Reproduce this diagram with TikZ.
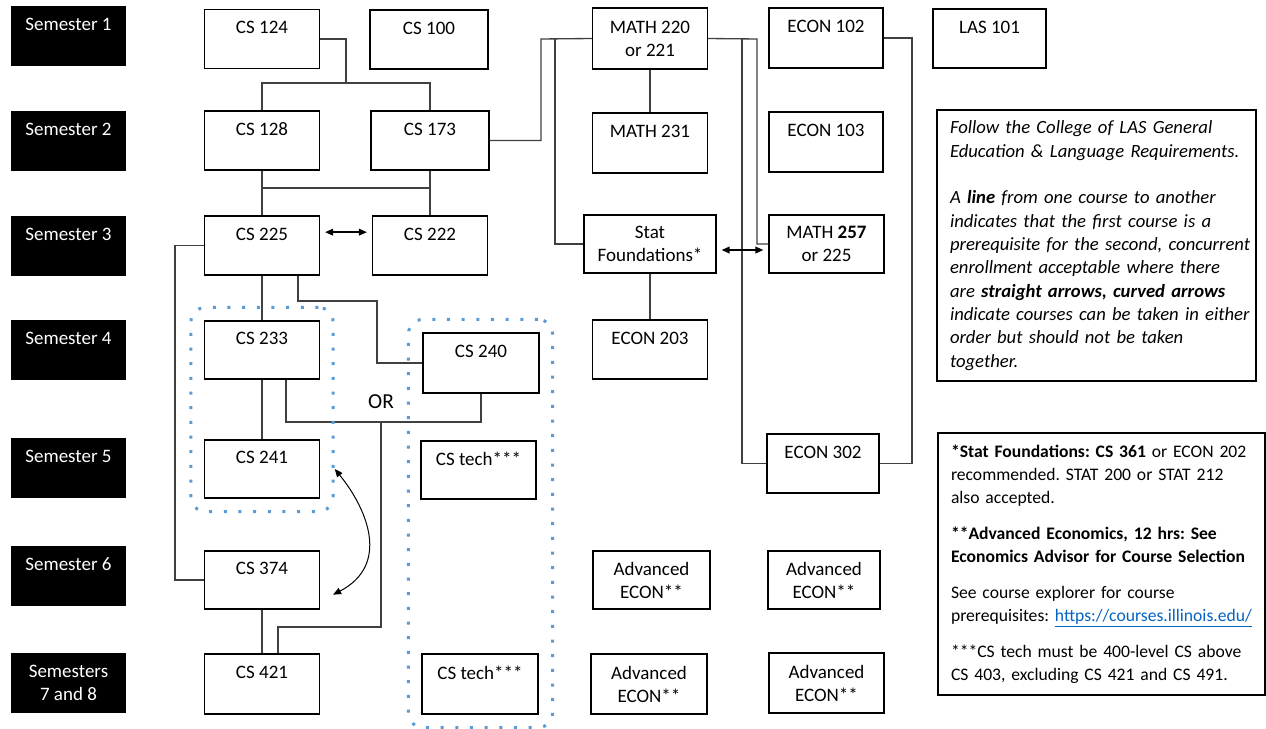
\documentclass[tikz,border=0pt]{standalone}
\usepackage{fontspec}
\setmainfont{Carlito}
\usetikzlibrary{arrows.meta,positioning,fit,calc}
\definecolor{dotblue}{RGB}{91,155,213}
\definecolor{linkblue}{RGB}{5,99,193}
\newcommand\boxfont{\fontsize{14.25}{17.25}\selectfont}
\newcommand\notefont{\fontsize{14}{17.5}\selectfont}
\newcommand\footfont{\fontsize{13.2}{17.25}\selectfont}
\frenchspacing

\begin{document}
\begin{tikzpicture}[x=0.75pt,y=-0.75pt,
  >={Triangle[length=6pt,width=5pt]},
  sem/.style={fill=black,text=white,minimum width=86.25pt,minimum height=45pt,inner sep=0pt,align=center,font=\boxfont},
  course/.style={draw=black,line width=0.9pt,fill=white,minimum width=86.25pt,minimum height=44.25pt,inner sep=0pt,align=center,font=\boxfont},
  conn/.style={draw=black!75,line width=1pt},
  twoway/.style={<->,draw=black,line width=1.1pt,shorten <=3.75pt,shorten >=3.75pt},
  dotbox/.style={draw=dotblue,line width=2.25pt,dash pattern=on 2.25pt off 8.75pt,rounded corners=11pt,inner sep=9.75pt},
  notebox/.style={draw=black,line width=1.4pt,align=left,inner xsep=0pt,inner ysep=0pt}
]
\useasboundingbox (0,0) rectangle (1266,728);

% semesters
\node[sem] (s1) at (68.5,36) {Semester 1\\\mbox{}};
\node[sem] (s2) at (68.5,140.5) {Semester 2\\\mbox{}};
\node[sem] (s3) at (68.5,245.5) {Semester 3\\\mbox{}};
\node[sem] (s4) at (68.5,350) {Semester 4\\\mbox{}};
\node[sem] (s5) at (68.5,467.5) {Semester 5\\\mbox{}};
\node[sem] (s6) at (68.5,576) {Semester 6\\\mbox{}};
\node[sem] (s7) at (68.5,682.5) {Semesters\\7 and 8};

% CS courses
\node[course] (cs124) at (262,39) {CS 124\\\mbox{}};
\node[course,minimum width=88.5pt] (cs100) at (429,39.5) {CS 100\\\mbox{}};
\node[course] (cs128) at (262,140.5) {CS 128\\\mbox{}};
\node[course,minimum width=88.5pt] (cs173) at (430,140.5) {CS 173\\\mbox{}};
\node[course] (cs225) at (262,245.5) {CS 225\\\mbox{}};
\node[course] (cs222) at (430,245.5) {CS 222\\\mbox{}};
\node[course,minimum height=43.5pt] (cs233) at (262,350) {CS 233\\\mbox{}};
\node[course,minimum width=87pt,minimum height=45pt] (cs240) at (481,363) {CS 240\\\mbox{}};
\node[course,minimum height=43.5pt] (cs241) at (262,469) {CS 241\\\mbox{}};
\node[course,minimum height=43.5pt] (cstechA) at (478.5,470) {CS tech***\\\mbox{}};
\node[course,minimum height=43.5pt] (cs374) at (262,580) {CS 374\\\mbox{}};
\node[course,minimum height=45pt] (cs421) at (262,684) {CS 421\\\mbox{}};
\node[course,minimum width=87pt,minimum height=45pt] (cstechB) at (480,684) {CS tech***\\\mbox{}};

% math, stats and econ
\node[course,minimum height=45.75pt] (math220) at (650,38.5) {MATH 220\\or 221};
\node[course,minimum height=45pt] (math231) at (650,143) {MATH 231\\\mbox{}};
\node[course,minimum width=99pt,minimum height=43.5pt] (stat) at (650,244) {Stat\\Foundations*};
\node[course] (econ203) at (650,349.5) {ECON 203\\\mbox{}};
\node[course,minimum width=85.5pt,minimum height=45pt] (econ102) at (826,38) {ECON 102\\\mbox{}};
\node[course,minimum width=85.5pt,minimum height=45pt] (econ103) at (826,142) {ECON 103\\\mbox{}};
\node[course,minimum height=43.5pt] (math257) at (826.5,244) {MATH \textbf{257}\\or 225};
\node[course,minimum width=84pt] (econ302) at (823,463.5) {ECON 302\\\mbox{}};
\node[course,minimum width=84.75pt] (las101) at (989.5,38.5) {LAS 101\\\mbox{}};
\node[course,minimum width=87.75pt,minimum height=43.5pt] (advA) at (651.5,580) {Advanced\\ECON**};
\node[course,minimum width=84pt,minimum height=43.5pt] (advB) at (824,580) {Advanced\\ECON**};
\node[course,minimum width=87pt,minimum height=45pt] (advC) at (649,684) {Advanced\\ECON**};
\node[course,minimum height=45pt] (advD) at (826.5,683) {Advanced\\ECON**};

% prerequisite lines
\coordinate (j1) at (346,83);
\draw[conn] (cs124.east) -| (j1) -| (cs128.north);
\draw[conn] (j1) -| (cs173.north);
\coordinate (j2) at (262,188);
\draw[conn] (cs128.south) -- (cs225.north);
\draw[conn] (cs173.south) -- (cs222.north);
\draw[conn] (j2) -- (j2 -| cs173.south);
\coordinate (j3) at (541,39);
\coordinate (j4) at (555,39);
\draw[conn] (cs173.east) -| (j3) -- (math220.west);
\draw[conn] (j4) |- (stat.west);
\draw[conn] (math220.south) -- (math231.north);
\coordinate (j5) at (757,39);
\coordinate (j6) at (742,39);
\draw[conn] (math220.east) -- (j5) |- (math257.west);
\draw[conn] (j6) |- (econ302.west);
\coordinate (j7) at (912,463.5);
\draw[conn] (econ102.east) -| (j7) -- (econ302.east);
\draw[conn] (stat.south) -- (econ203.north);
\coordinate (j8) at (175,580);
\draw[conn] (cs225.west) -| (j8) -- (cs374.west);
\draw[conn] (cs225.south) -- (cs233.north);
\coordinate (j9) at (377,301);
\draw[conn] ([xshift=27pt]cs225.south) |- (j9) |- (cs240.west);
\draw[conn] (cs233.south) -- (cs241.north);
\coordinate (j10) at (381,422);
\draw[conn] ([xshift=18pt]cs233.south) |- (j10) -| (cs240.south);
\coordinate (j11) at (278,627);
\draw[conn] (j10) |- (j11) -- (j11 |- cs421.north);
\draw[conn] (cs374.south) -- (cs421.north);
\node[font=\fontsize{16}{19}\selectfont] (orlabel) at (381,402) {OR};

% concurrent / either order
\draw[twoway] ([yshift=10pt]cs225.east) -- ([yshift=10pt]cs222.west);
\draw[twoway] ([yshift=-4.5pt]stat.east) -- ([yshift=-4.5pt]math257.west);
\draw[<->,draw=black,line width=0.75pt] ([xshift=11pt]cs241.east) .. controls (368,510) and (390,565) .. ([xshift=9.75pt,yshift=-11pt]cs374.east);

% groups
\node[dotbox,fit=(cs233)(cs241)] (grpA) {};
\node[dotbox,fit=(cs240)(cstechB)] (grpB) {};

% notes
\node[notebox,text width=239.25pt,minimum height=203.25pt,font=\notefont\itshape] (legend) at (1096.5,245.5) {\leftskip=9.75pt
Follow the College of LAS General\\
Education \& Language Requirements.\\[17.5pt]
A \textbf{line} from one course to another\\
indicates that the first course is a\\
prerequisite for the second, concurrent\\
enrollment acceptable where there\\
are \textbf{straight arrows, curved arrows}\\
indicate courses can be taken in either\\
order but should not be taken\\
together.\par};
\node[notebox,text width=245.25pt,minimum height=196.5pt,font=\footfont] (footnotes) at (1101.5,564) {\leftskip=9.75pt
\textbf{*Stat Foundations: CS 361} or ECON 202\\
recommended. STAT 200 or STAT 212\\
also accepted.\\[9.75pt]
\textbf{**Advanced Economics, 12 hrs: See}\\
\textbf{Economics Advisor for Course Selection}\\[9.75pt]
See course explorer for course\\
prerequisites: \textcolor{linkblue}{\underline{https://courses.illinois.edu/}}\\[9.75pt]
***CS tech must be 400-level CS above\\
CS 403, excluding CS 421 and CS 491.\par};
\end{tikzpicture}
\end{document}
